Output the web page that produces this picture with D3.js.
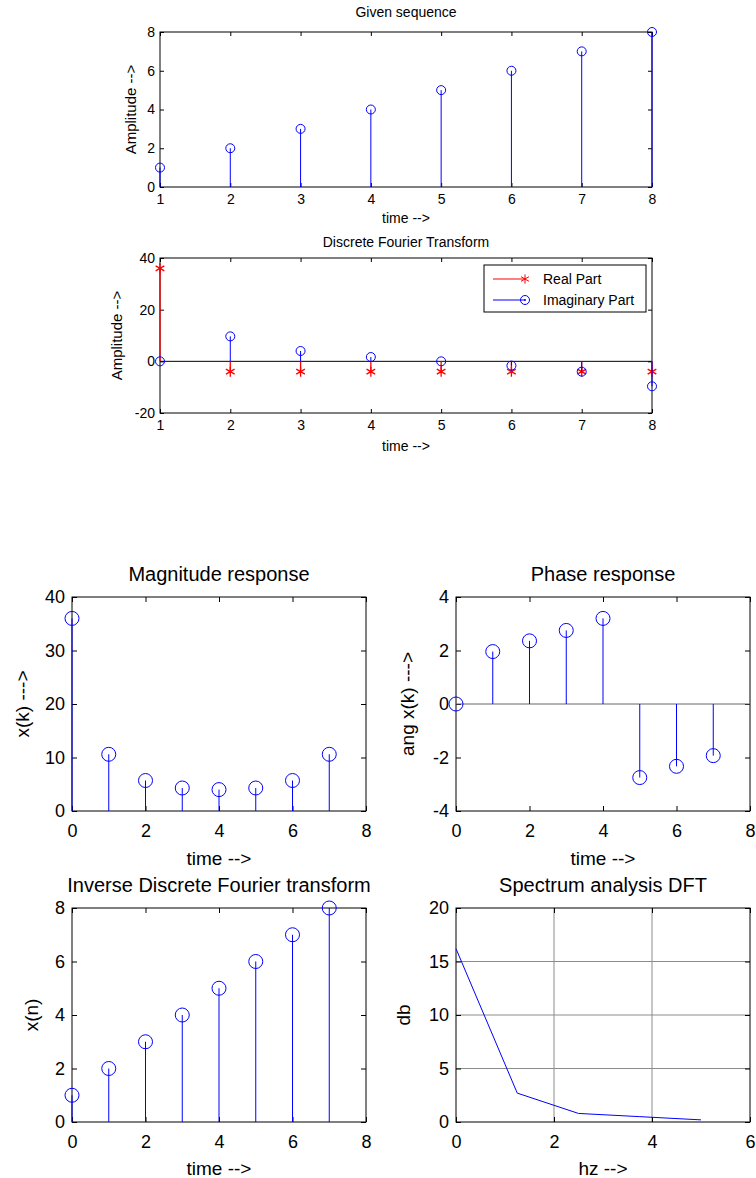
<!DOCTYPE html>
<html>
<head>
<meta charset="utf-8">
<script src="https://cdn.jsdelivr.net/npm/d3@7/dist/d3.min.js"></script>
<style>
  body { margin: 0; background: #fff; }
  svg { display: block; font-family: Arial, "Liberation Sans", sans-serif; }
</style>
</head>
<body>
<svg id="fig" width="756" height="1178"></svg>
<script>
// data
var seqTime = [1, 2, 3, 4, 5, 6, 7, 8];
var seqValues = [1, 2, 3, 4, 5, 6, 7, 8];
var dftReal = [36, -4, -4, -4, -4, -4, -4, -4];
var dftImag = [0, 9.66, 4, 1.66, 0, -1.66, -4, -9.66];
var kIndex = [0, 1, 2, 3, 4, 5, 6, 7];
var magValues = [36, 10.6, 5.7, 4.3, 4, 4.3, 5.7, 10.6];
var phaseValues = [0, 1.96, 2.36, 2.75, 3.2, -2.75, -2.33, -1.93];
var idftValues = [1, 2, 3, 4, 5, 6, 7, 8];
var specHz = [0, 1.25, 2.5, 3.75, 5];
var specDb = [16.2, 2.7, 0.8, 0.5, 0.2];

var ticksTop = [1, 2, 3, 4, 5, 6, 7, 8];
var ticksSeqY = [0, 2, 4, 6, 8];
var ticksDftY = [-20, 0, 20, 40];
var ticks08 = [0, 2, 4, 6, 8];
var ticksMagY = [0, 10, 20, 30, 40];
var ticksPhaseY = [-4, -2, 0, 2, 4];
var ticksSpecX = [0, 2, 4, 6];
var ticksSpecY = [0, 5, 10, 15, 20];

var svg = d3.select('#fig');
var blue = '#0000ff';
var red = '#ff0000';
var fmt = function(d) { return String(d); };  // plain hyphen minus, no decimals

function panel(o) {
  var g = svg.append('g');
  var x = d3.scaleLinear().domain(o.xd).range([o.left, o.right]);
  var y = d3.scaleLinear().domain(o.yd).range([o.bottom, o.top]);
  var fs = o.fs;

  if (o.grid) {
    g.selectAll('.gx').data(o.xt.slice(1, -1)).enter().append('line')
      .attr('x1', d => x(d)).attr('x2', d => x(d))
      .attr('y1', o.top).attr('y2', o.bottom)
      .attr('stroke', '#8c8c8c').attr('stroke-width', 1);
    g.selectAll('.gy').data(o.yt.slice(1, -1)).enter().append('line')
      .attr('y1', d => y(d)).attr('y2', d => y(d))
      .attr('x1', o.left).attr('x2', o.right)
      .attr('stroke', '#8c8c8c').attr('stroke-width', 1);
  }

  var ts = o.tick;
  var ax = g.append('g').attr('transform', 'translate(0,' + o.bottom + ')')
    .call(d3.axisBottom(x).tickValues(o.xt).tickFormat(fmt).tickSize(-ts).tickSizeOuter(0).tickPadding(o.padX));
  var ay = g.append('g').attr('transform', 'translate(' + o.left + ',0)')
    .call(d3.axisLeft(y).tickValues(o.yt).tickFormat(fmt).tickSize(-ts).tickSizeOuter(0).tickPadding(o.padY));
  g.append('g').attr('transform', 'translate(0,' + o.top + ')')
    .call(d3.axisTop(x).tickValues(o.xt).tickSize(-ts).tickSizeOuter(0).tickFormat(''));
  g.append('g').attr('transform', 'translate(' + o.right + ',0)')
    .call(d3.axisRight(y).tickValues(o.yt).tickSize(-ts).tickSizeOuter(0).tickFormat(''));
  g.selectAll('.domain').remove();
  g.selectAll('.tick line').attr('stroke', '#000');
  [ax, ay].forEach(function(a) {
    a.selectAll('text').attr('font-size', fs).attr('fill', '#000')
      .attr('font-family', 'Arial, "Liberation Sans", sans-serif');
  });

  g.append('rect').attr('x', o.left).attr('y', o.top)
    .attr('width', o.right - o.left).attr('height', o.bottom - o.top)
    .attr('fill', 'none').attr('stroke', '#000').attr('stroke-width', 1);

  g.append('text').attr('x', (o.left + o.right) / 2).attr('y', o.titleY)
    .attr('text-anchor', 'middle').attr('font-size', o.tfs).text(o.title);
  g.append('text').attr('x', (o.left + o.right) / 2).attr('y', o.xlabY)
    .attr('text-anchor', 'middle').attr('font-size', o.lfs).text(o.xlab);
  g.append('text').attr('transform', 'translate(' + o.ylabX + ',' + (o.top + o.bottom) / 2 + ') rotate(-90)')
    .attr('text-anchor', 'middle').attr('font-size', o.yfs || o.lfs).text(o.ylab);

  return { g: g, x: x, y: y };
}

function stems(p, xs, ys, color, r, marker) {
  var pts = xs.map((d, i) => ({ x: d, y: ys[i] }));
  p.g.selectAll(null).data(pts).enter().append('line')
    .attr('x1', d => p.x(d.x)).attr('x2', d => p.x(d.x))
    .attr('y1', p.y(0)).attr('y2', d => p.y(d.y))
    .attr('stroke', color).attr('stroke-width', marker === 'star' ? 1.3 : 1);
  if (marker === 'star') {
    p.g.selectAll(null).data(pts).enter().append('path')
      .attr('transform', d => 'translate(' + p.x(d.x) + ',' + p.y(d.y) + ')')
      .attr('d', d3.symbol(d3.symbolAsterisk, 70))
      .attr('fill', 'none').attr('stroke', color).attr('stroke-width', 1.3);
  } else {
    p.g.selectAll(null).data(pts).enter().append('circle')
      .attr('cx', d => p.x(d.x)).attr('cy', d => p.y(d.y)).attr('r', r)
      .attr('fill', 'none').attr('stroke', color).attr('stroke-width', 1);
  }
}

var topStyle = { fs: 14, tfs: 14, lfs: 14, yfs: 15, tick: 4, padX: 7, padY: 5 };
var botStyle = { fs: 18, tfs: 20, lfs: 19, tick: 5, padX: 13, padY: 7 };

// ---- Given sequence
var p1 = panel(Object.assign({ left: 160, right: 652, top: 32, bottom: 187, xd: [1, 8], yd: [0, 8],
  xt: ticksTop, yt: ticksSeqY,
  title: 'Given sequence', titleY: 17, xlab: 'time -->', xlabY: 223, ylab: 'Amplitude -->', ylabX: 136 }, topStyle));
stems(p1, seqTime, seqValues, blue, 4.5);

// ---- DFT
var p2 = panel(Object.assign({ left: 160, right: 652, top: 258, bottom: 413, xd: [1, 8], yd: [-20, 40],
  xt: ticksTop, yt: ticksDftY,
  title: 'Discrete Fourier Transform', titleY: 247, xlab: 'time -->', xlabY: 451, ylab: 'Amplitude -->', ylabX: 122 }, topStyle));
p2.g.append('line').attr('x1', p2.x(1)).attr('x2', p2.x(8))
  .attr('y1', p2.y(0)).attr('y2', p2.y(0)).attr('stroke', '#000');
stems(p2, seqTime, dftReal, red, 4.5, 'star');
stems(p2, seqTime, dftImag, blue, 4.5);

// legend
var lg = p2.g.append('g');
lg.append('rect').attr('x', 484).attr('y', 265).attr('width', 162).attr('height', 47)
  .attr('fill', '#fff').attr('stroke', '#000');
var legendItems = ['Real Part', 'Imaginary Part'];
var legendColors = [red, blue];
legendItems.forEach(function(name, i) {
  var yy = 279 + i * 21;
  lg.append('line').attr('x1', 493).attr('x2', 525).attr('y1', yy).attr('y2', yy)
    .attr('stroke', legendColors[i]);
  if (i === 0) {
    lg.append('path').attr('transform', 'translate(525,' + yy + ')')
      .attr('d', d3.symbol(d3.symbolAsterisk, 60)).attr('fill', 'none').attr('stroke', red);
  } else {
    lg.append('circle').attr('cx', 525).attr('cy', yy).attr('r', 4.5)
      .attr('fill', 'none').attr('stroke', blue);
    lg.append('circle').attr('cx', 525).attr('cy', yy).attr('r', 1)
      .attr('fill', blue);
  }
  lg.append('text').attr('x', 543).attr('y', yy + 5).attr('font-size', 14).text(name);
});

// ---- Magnitude response
var p3 = panel(Object.assign({ left: 72, right: 366, top: 597, bottom: 811, xd: [0, 8], yd: [0, 40],
  xt: ticks08, yt: ticksMagY,
  title: 'Magnitude response', titleY: 581, xlab: 'time -->', xlabY: 865, ylab: 'x(k) --->', ylabX: 29 }, botStyle));
stems(p3, kIndex, magValues, blue, 7);

// ---- Phase response
var p4 = panel(Object.assign({ left: 456, right: 750, top: 597, bottom: 811, xd: [0, 8], yd: [-4, 4],
  xt: ticks08, yt: ticksPhaseY,
  title: 'Phase response', titleY: 581, xlab: 'time -->', xlabY: 865, ylab: 'ang x(k) --->', ylabX: 414 }, botStyle));
p4.g.append('line').attr('x1', p4.x(0)).attr('x2', p4.x(8))
  .attr('y1', p4.y(0)).attr('y2', p4.y(0)).attr('stroke', '#666');
stems(p4, kIndex, phaseValues, blue, 7);

// ---- IDFT
var p5 = panel(Object.assign({ left: 72, right: 366, top: 908, bottom: 1122, xd: [0, 8], yd: [0, 8],
  xt: ticks08, yt: ticksSeqY,
  title: 'Inverse Discrete Fourier transform', titleY: 892, xlab: 'time -->', xlabY: 1175, ylab: 'x(n)', ylabX: 38 }, botStyle));
stems(p5, kIndex, idftValues, blue, 7);

// ---- Spectrum
var p6 = panel(Object.assign({ left: 456, right: 750, top: 908, bottom: 1122, xd: [0, 6], yd: [0, 20],
  xt: ticksSpecX, yt: ticksSpecY, grid: true,
  title: 'Spectrum analysis DFT', titleY: 892, xlab: 'hz -->', xlabY: 1175, ylab: 'db', ylabX: 410 }, botStyle));
p6.g.append('path').datum(specHz.map((d, i) => [d, specDb[i]]))
  .attr('d', d3.line().x(d => p6.x(d[0])).y(d => p6.y(d[1])))
  .attr('fill', 'none').attr('stroke', blue).attr('stroke-width', 1);
</script>
</body>
</html>
